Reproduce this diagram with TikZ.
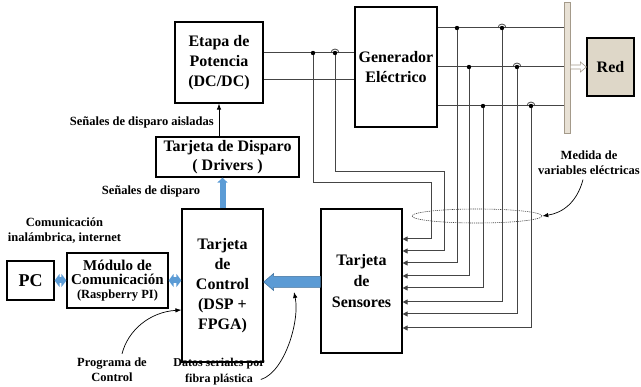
\documentclass[tikz,border=0pt]{standalone}
\usepackage{fontspec}
\setmainfont{Liberation Serif}
\usetikzlibrary{arrows.meta,calc,shapes.geometric}
\definecolor{blu}{HTML}{5B9BD5}
\definecolor{bluedge}{HTML}{41719C}
\definecolor{wire}{HTML}{454545}
\definecolor{busfill}{HTML}{E8E1D5}
\definecolor{busedge}{HTML}{A49A8A}
\definecolor{redfill}{HTML}{DED7C8}
\begin{document}
\begin{tikzpicture}[x=1pt,y=-1pt,
  box/.style={draw, line width=1.2pt, align=center, inner sep=0pt, font=\rmfamily\bfseries\fontsize{16}{20}\selectfont},
  lbl/.style={align=center, inner sep=0pt, font=\rmfamily\bfseries\fontsize{12.5}{15}\selectfont},
  wireline/.style={draw=wire, line width=1pt},
  sarrow/.style={wireline, -{Triangle[length=5pt,width=5pt]}},
  thinarrow/.style={draw=black, line width=0.8pt, -{Latex[length=6pt,width=4.5pt]}},
  blockarrow/.style={draw=blu, line width=#1},
  hop/.style={draw=wire, line width=0.8pt}]
\useasboundingbox (0,0) rectangle (641,387);

% boxes
\node[box, minimum width=88pt, minimum height=81pt] (etapa) at (219,62.5) {Etapa de\\Potencia\\(DC/DC)};
\node[box, minimum width=82pt, minimum height=120pt] (gen) at (396,67) {Generador\\Eléctrico};
\node[box, minimum width=143pt, minimum height=40pt, font=\rmfamily\bfseries\fontsize{16}{19}\selectfont] (disp) at (227.5,157) {Tarjeta de Disparo\\( Drivers )};
\node[box, minimum width=81pt, minimum height=153pt] (ctrl) at (222.5,285.5) {Tarjeta\\de\\Control\\(DSP +\\FPGA)};
\node[box, minimum width=81pt, minimum height=144pt, font=\rmfamily\bfseries\fontsize{16}{21}\selectfont] (sens) at (361.5,281) {Tarjeta\\de\\Sensores};
\node[box, minimum width=47pt, minimum height=39pt, font=\rmfamily\bfseries\fontsize{18}{20}\selectfont] (pc) at (30.5,280.5) {PC};
\node[box, minimum width=101pt, minimum height=55pt, font=\rmfamily\bfseries\fontsize{15}{14}\selectfont] (mod) at (117.5,280.5) {Módulo de\\Comunicación\\{\fontsize{12.5}{14}\selectfont(Raspberry PI)}};
\node[box, fill=redfill, minimum width=47pt, minimum height=58pt] (red) at (610.5,67) {Red};
\node[draw=busedge, fill=busfill, line width=0.8pt, minimum width=6pt, minimum height=131pt, inner sep=0pt] (bus) at (567,67.5) {};

% labels
\node[lbl, anchor=east] (sda) at (214,122) {Señales de disparo aisladas};
\node[lbl] (sd) at (151,191) {Señales de disparo};
\node[lbl] (com) at (64.5,230.5) {Comunicación\\inalámbrica, internet};
\node[lbl] (prog) at (112,370) {Programa de\\Control};
\node[lbl, font=\rmfamily\bfseries\fontsize{12}{16}\selectfont] (datos) at (219,371.5) {Datos seriales por\\fibra plástica};
\node[lbl] (medida) at (589,162.5) {Medida de\\variables eléctricas};

% junction points
\coordinate (ja) at (313,53);
\coordinate (jb) at (335,53);
\coordinate (g1) at (457,28);
\coordinate (h1) at (502,28);
\coordinate (g2) at (469,67);
\coordinate (h2) at (517,67);
\coordinate (g3) at (483,106);
\coordinate (h3) at (531,106);
\coordinate (ka) at (431,183);
\coordinate (kb) at (444,172);

% power lines
\draw[wireline] (etapa.east |- ja) -- (gen.west |- ja);
\draw[wireline] (etapa.east |- 0,80) -- (gen.west |- 0,80);
\draw[wireline] (gen.east |- g1) -- (bus.west |- g1);
\draw[wireline] (gen.east |- g2) -- (bus.west |- g2);
\draw[wireline] (gen.east |- g3) -- (bus.west |- g3);

% measurement wires to sensors
\draw[sarrow] (ja) |- (ka) |- (sens.east |- 0,239);
\draw[sarrow] (jb) |- (kb) |- (sens.east |- 0,251);
\draw[sarrow] (g1) |- (sens.east |- 0,263);
\draw[sarrow] (g2) |- (sens.east |- 0,276);
\draw[sarrow] (g3) |- (sens.east |- 0,288);
\draw[sarrow] (h1) |- (sens.east |- 0,302);
\draw[sarrow] (h2) |- (sens.east |- 0,314);
\draw[sarrow] (h3) |- (sens.east |- 0,328);

% dots and hops
\foreach \p in {ja,jb,g1,g2,g3,h1,h2,h3} {\fill (\p) circle[radius=2.2];}
\foreach \p in {jb,h1,h2,h3} {\draw[hop] ($(\p)+(-4,0)$) arc[start angle=180,end angle=360,radius=4];}

% measurement ellipse
\node[draw=wire, ellipse, line width=0.6pt, dash pattern=on 1.2pt off 0.9pt, minimum width=130pt, minimum height=14pt, inner sep=0pt] (meas) at (477,216) {};

% bus to grid hollow arrow
\draw[busedge, fill=white, line width=0.6pt] ($(bus.east |- red.west)+(0,-2)$) -- ($(red.west)+(-6,-2)$) -- ($(red.west)+(-6,-5)$) -- (red.west) -- ($(red.west)+(-6,5)$) -- ($(red.west)+(-6,2)$) -- ($(bus.east |- red.west)+(0,2)$) -- cycle;

% thin arrow drivers -> power stage
\draw[thinarrow] (disp.north -| etapa.south) -- (etapa.south);

% blue arrows
\draw[blockarrow=6pt, -{Triangle[length=5pt,width=10pt]}] (ctrl.north) -- (ctrl.north |- disp.south);
\coordinate (stail) at (sens.west |- 0,282);
\coordinate (ctip) at (ctrl.east |- 0,282);
\filldraw[fill=blu, draw=bluedge, line width=0.5pt] (ctip) -- ($(ctip)+(10,-8.5)$) -- ($(ctip)+(10,-5.5)$) -- ($(stail)+(0,-5.5)$) -- ($(stail)+(0,5.5)$) -- ($(ctip)+(10,5.5)$) -- ($(ctip)+(10,8.5)$) -- cycle;
\draw[blockarrow=6pt, {Triangle[length=5pt,width=13pt]}-{Triangle[length=5pt,width=13pt]}] (pc.east) -- (mod.west);
\draw[blockarrow=6pt, {Triangle[length=5pt,width=13pt]}-{Triangle[length=5pt,width=13pt]}] (mod.east) -- (ctrl.west |- mod.east);

% annotation arrows
\coordinate (dtip) at (294,292);
\draw[thinarrow, line width=0.7pt] ($(medida.south)+(-6,5)$) .. controls ($(medida.south)+(-12,28)$) and ($(meas.east)+(20,-3)$) .. (meas.east);
\draw[thinarrow, line width=0.7pt] ($(prog.north)+(10,-4)$) .. controls (128,330) and (150,312) .. (ctrl.west |- 0,310);
\draw[thinarrow, line width=0.7pt] ($(datos.east)+(-4,8)$) .. controls (285,372) and (300,320) .. (dtip);
\end{tikzpicture}
\end{document}
